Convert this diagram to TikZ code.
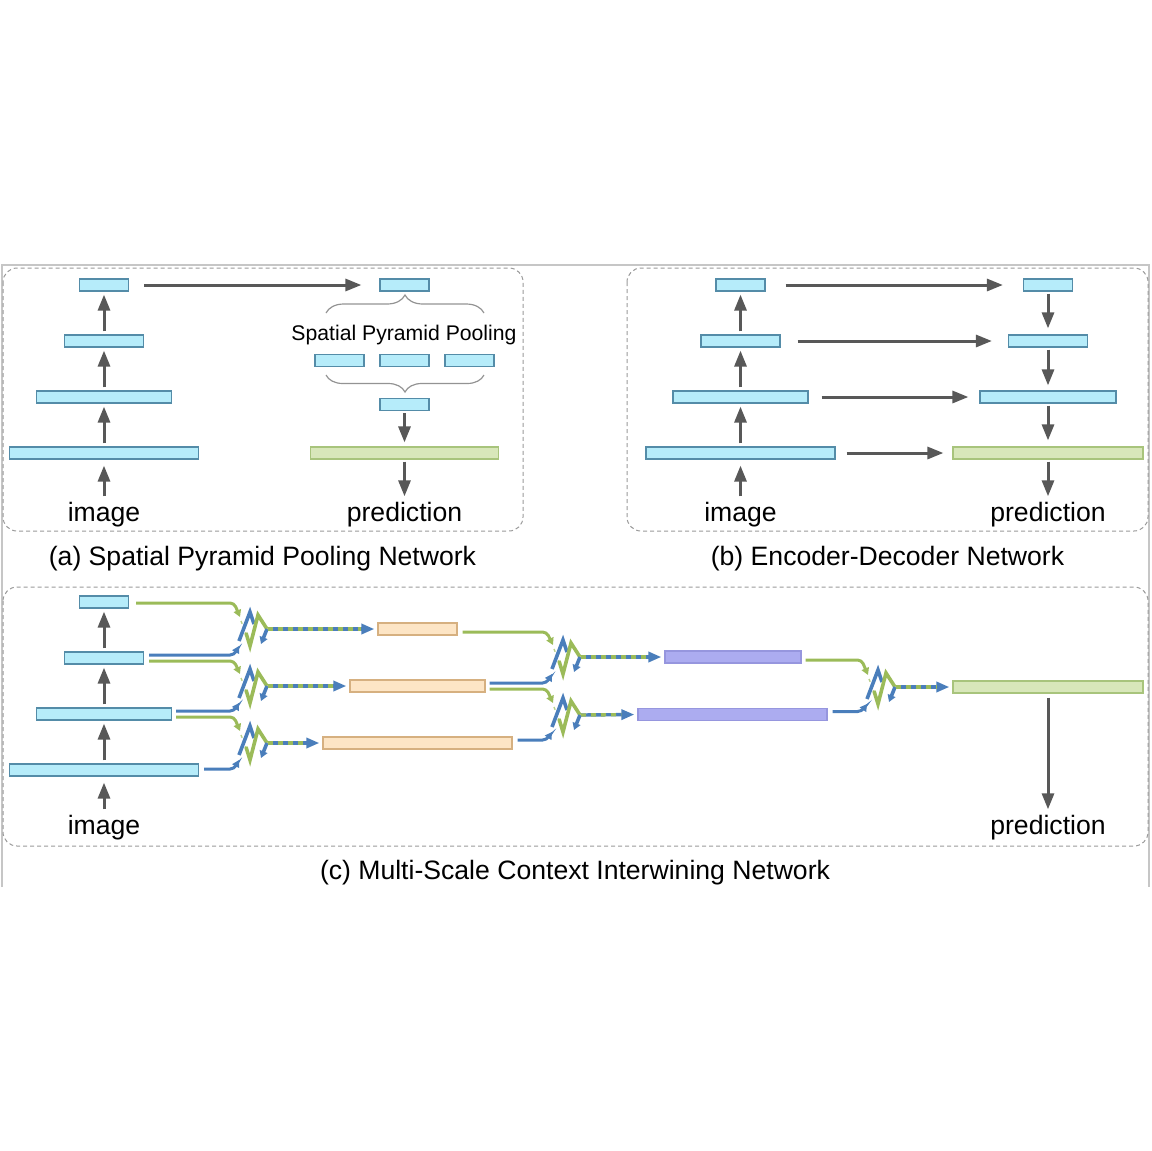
\documentclass[tikz,border=0pt]{standalone}
\usepackage{fontspec}
\setmainfont{Liberation Sans}
\usetikzlibrary{arrows.meta,positioning,calc,decorations.pathreplacing}

\definecolor{encfill}{RGB}{182,236,250}
\definecolor{encline}{RGB}{84,140,168}
\definecolor{predfill}{RGB}{216,231,186}
\definecolor{predline}{RGB}{168,196,124}
\definecolor{ctxafill}{RGB}{253,229,197}
\definecolor{ctxaline}{RGB}{214,176,128}
\definecolor{ctxbfill}{RGB}{172,172,240}
\definecolor{ctxbline}{RGB}{150,150,222}
\definecolor{flowgray}{RGB}{88,88,88}
\definecolor{mixblue}{RGB}{74,126,187}
\definecolor{mixgreen}{RGB}{155,187,89}

\begin{document}
\begin{tikzpicture}[x=0.5pt, y=-0.5pt, font=\fontsize{13.3}{16}\selectfont,
  slab/.style={minimum width=#1*0.5pt, minimum height=6pt, inner sep=0pt,
    line width=0.6pt},
  enc/.style={slab=#1, draw=encline, fill=encfill},
  pred/.style={slab=#1, draw=predline, fill=predfill},
  ctxa/.style={slab=#1, draw=ctxaline, fill=ctxafill},
  ctxb/.style={slab=#1, draw=ctxbline, fill=ctxbfill},
  lbl/.style={inner sep=1pt, anchor=base},
  panel/.style={draw=gray!80, line width=0.5pt, dash pattern=on 2pt off 1.5pt,
    rounded corners=7pt},
  frame/.style={draw=gray!45, line width=1.2pt},
  arr/.style={flowgray, line width=1.5pt, -{Triangle[length=8pt,width=6pt]}},
  brc/.style={draw=gray!85, line width=0.6pt, decorate,
    decoration={brace, amplitude=#1}},
  gin/.style={mixgreen, line width=1.5pt, rounded corners=2pt,
    -{Triangle[length=3.5pt,width=3.8pt]}},
  bin/.style={mixblue, line width=1.5pt, rounded corners=2pt,
    -{Triangle[length=3.5pt,width=3.8pt]}},
  mixout/.style={mixblue, line width=1.7pt, shorten >=1.5pt,
    -{Triangle[length=6.5pt,width=5pt]}},
  mixdash/.style={mixgreen, line width=1.7pt, shorten >=8pt,
    dash pattern=on 2.5pt off 2.5pt},
  mix/.pic={
    \draw[mixgreen!70, line width=0.7pt, dash pattern=on 1.5pt off 1.5pt] (-11,-8) -- (-6,4);
    \draw[mixblue, line width=1.8pt] (-13,12) -- (-2,-17) -- (2,-5);
    \draw[mixgreen, line width=1.8pt] (-6,4) -- (-2,17) -- (6,-14) -- (15,0);
    \draw[mixblue, line width=1.8pt, -{Triangle[length=3.5pt,width=4pt]}] (15,0) -- (9,15);
    \coordinate (-g) at (-12,-12);
    \coordinate (-b) at (-13,17);
    \coordinate (-o) at (16,0);
  },
]
\useasboundingbox (0,0) rectangle (1151,1151);

%% Outer frame and panels
\draw[frame] (2,887) -- (2,265) -- (1149,265) -- (1149,887);
\draw[panel] (3,268) rectangle (523,531);
\draw[panel] (627,268) rectangle (1148,531);
\draw[panel] (3,587) rectangle (1148,846);

%% (a) Spatial Pyramid Pooling
\node[enc=49]  (a1) at (104,285) {};
\node[enc=79]  (a2) at (104,341) {};
\node[enc=135] (a3) at (104,397) {};
\node[enc=189] (a4) at (104,453) {};
\node[lbl] (aimg) at (104,521) {image};

\node[enc=49] (s0) at (404.5,285) {};
\node[enc=49] (s1) at (339.5,360.5) {};
\node[enc=49] (s2) at (404.5,360.5) {};
\node[enc=49] (s3) at (469.5,360.5) {};
\node[enc=49] (s4) at (404.5,404.5) {};
\node[pred=188] (ap) at (404.5,453) {};
\node[lbl] (apred) at (404.5,521) {prediction};
\node[lbl, font=\fontsize{10.6}{12}\selectfont] (spp) at (404,340) {Spatial Pyramid Pooling};

\draw[brc=9pt] (326,313) -- (484,313);
\draw[brc=8.5pt] (484,375) -- (326,375);

\draw[arr, shorten <=1.5pt, shorten >=3pt] (aimg.north) -- (a4.south);
\draw[arr, shorten <=1.5pt, shorten >=1.5pt] (a4.north) -- (a3.south);
\draw[arr, shorten <=1.5pt, shorten >=1.5pt] (a3.north) -- (a2.south);
\draw[arr, shorten <=1.5pt, shorten >=1.5pt] (a2.north) -- (a1.south);
\draw[arr, shorten <=7.5pt, shorten >=9pt] (a1.east) -- (s0.west);
\draw[arr, shorten <=1pt, shorten >=2pt] (s4.south) -- (ap.north);
\draw[arr, shorten <=1pt, shorten >=1.5pt] (ap.south) -- (apred.north);

\node[lbl] (capa) at (262.5,565) {(a) Spatial Pyramid Pooling Network};

%% (b) Encoder-Decoder
\node[enc=49]  (b1) at (740.5,285) {};
\node[enc=79]  (b2) at (740.5,341) {};
\node[enc=135] (b3) at (740.5,397) {};
\node[enc=189] (b4) at (740.5,453) {};
\node[lbl] (bimg) at (740.5,521) {image};

\node[enc=49]  (d1) at (1048,285) {};
\node[enc=79]  (d2) at (1048,341) {};
\node[enc=136] (d3) at (1048,397) {};
\node[pred=190] (bp) at (1048,453) {};
\node[lbl] (bpred) at (1048,521) {prediction};

\draw[arr, shorten <=1.5pt, shorten >=3pt] (bimg.north) -- (b4.south);
\draw[arr, shorten <=1.5pt, shorten >=1.5pt] (b4.north) -- (b3.south);
\draw[arr, shorten <=1.5pt, shorten >=1.5pt] (b3.north) -- (b2.south);
\draw[arr, shorten <=1.5pt, shorten >=1.5pt] (b2.north) -- (b1.south);

\draw[arr, shorten <=10pt, shorten >=10pt] (b1.east) -- (d1.west);
\draw[arr, shorten <=8.5pt, shorten >=8pt] (b2.east) -- (d2.west);
\draw[arr, shorten <=6.5pt, shorten >=5.5pt] (b3.east) -- (d3.west);
\draw[arr, shorten <=5.5pt, shorten >=4.5pt] (b4.east) -- (bp.west);

\draw[arr, shorten <=1pt, shorten >=3pt] (d1.south) -- (d2.north);
\draw[arr, shorten <=1pt, shorten >=2.5pt] (d2.south) -- (d3.north);
\draw[arr, shorten <=1pt, shorten >=3pt] (d3.south) -- (bp.north);
\draw[arr, shorten <=1pt, shorten >=1.5pt] (bp.south) -- (bpred.north);

\node[lbl] (capb) at (887.5,565) {(b) Encoder-Decoder Network};

%% (c) Multi-Scale Context Interwining
\node[enc=49]  (c1) at (104,602) {};
\node[enc=79]  (c2) at (104,658) {};
\node[enc=135] (c3) at (104,714) {};
\node[enc=189] (c4) at (104,770) {};
\node[lbl] (cimg) at (104,834) {image};

\draw[arr, shorten <=1.5pt, shorten >=3pt] (cimg.north) -- (c4.south);
\draw[arr, shorten <=1.5pt, shorten >=1.5pt] (c4.north) -- (c3.south);
\draw[arr, shorten <=1.5pt, shorten >=1.5pt] (c3.north) -- (c2.south);
\draw[arr, shorten <=1.5pt, shorten >=1.5pt] (c2.north) -- (c1.south);

%% first interwining stage
\pic (m11) at (252,629) {mix};
\pic (m12) at (252,686) {mix};
\pic (m13) at (252,743) {mix};

\draw[gin] ([xshift=3.5pt,yshift=-0.5pt]c1.east) -- ++(98,0) -- (m11-g);
\draw[bin] ([xshift=2.5pt,yshift=1.5pt]c2.east) -- ++(85,0) -- (m11-b);
\draw[gin] ([xshift=2.5pt,yshift=-1.5pt]c2.east) -- ++(85,0) -- (m12-g);
\draw[bin] ([xshift=2pt,yshift=1.5pt]c3.east) -- ++(58,0) -- (m12-b);
\draw[gin] ([xshift=2pt,yshift=-1.5pt]c3.east) -- ++(58,0) -- (m13-g);
\draw[bin] ([xshift=2.5pt,yshift=0.5pt]c4.east) -- ++(30,0) -- (m13-b);

\node[ctxa=79]  (o1) at (417.5,629) {};
\node[ctxa=135] (o2) at (417.5,686) {};
\node[ctxa=189] (o3) at (417.5,743) {};

\draw[mixout] (m11-o) -- (o1.west);
\draw[mixdash] (m11-o) -- (o1.west);
\draw[mixout] (m12-o) -- (o2.west);
\draw[mixdash] (m12-o) -- (o2.west);
\draw[mixout] (m13-o) -- (o3.west);
\draw[mixdash] (m13-o) -- (o3.west);

%% second interwining stage
\pic (m21) at (565,657) {mix};
\pic (m22) at (565,715) {mix};

\draw[gin] ([xshift=2.5pt,yshift=-1.5pt]o1.east) -- ++(84,0) -- (m21-g);
\draw[bin] ([xshift=2pt,yshift=1.5pt]o2.east) -- ++(57,0) -- (m21-b);
\draw[gin] ([xshift=2pt,yshift=-1.5pt]o2.east) -- ++(57,0) -- (m22-g);
\draw[bin] ([xshift=2.5pt,yshift=1.5pt]o3.east) -- ++(29,0) -- (m22-b);

\node[ctxb=136] (p1) at (733,657) {};
\node[ctxb=189] (p2) at (732.5,714.5) {};

\draw[mixout] (m21-o) -- (p1.west);
\draw[mixdash] (m21-o) -- (p1.west);
\draw[mixout] (m22-o) -- (p2.west);
\draw[mixdash] (m22-o) -- (p2.west);

%% last interwining stage
\pic (m3) at (880,687) {mix};

\draw[gin] ([xshift=2pt,yshift=-1.5pt]p1.east) -- ++(56,0) -- (m3-g);
\draw[bin] ([xshift=2.5pt,yshift=1.5pt]p2.east) -- ++(29,0) -- (m3-b);

\node[pred=190] (cp) at (1048,687) {};
\node[lbl] (cpred) at (1048,834) {prediction};

\draw[mixout] (m3-o) -- (cp.west);
\draw[mixdash] (m3-o) -- (cp.west);
\draw[arr, shorten <=2pt, shorten >=1.5pt] (cp.south) -- (cpred.north);

\node[lbl] (capc) at (575,879) {(c) Multi-Scale Context Interwining Network};

\end{tikzpicture}
\end{document}
